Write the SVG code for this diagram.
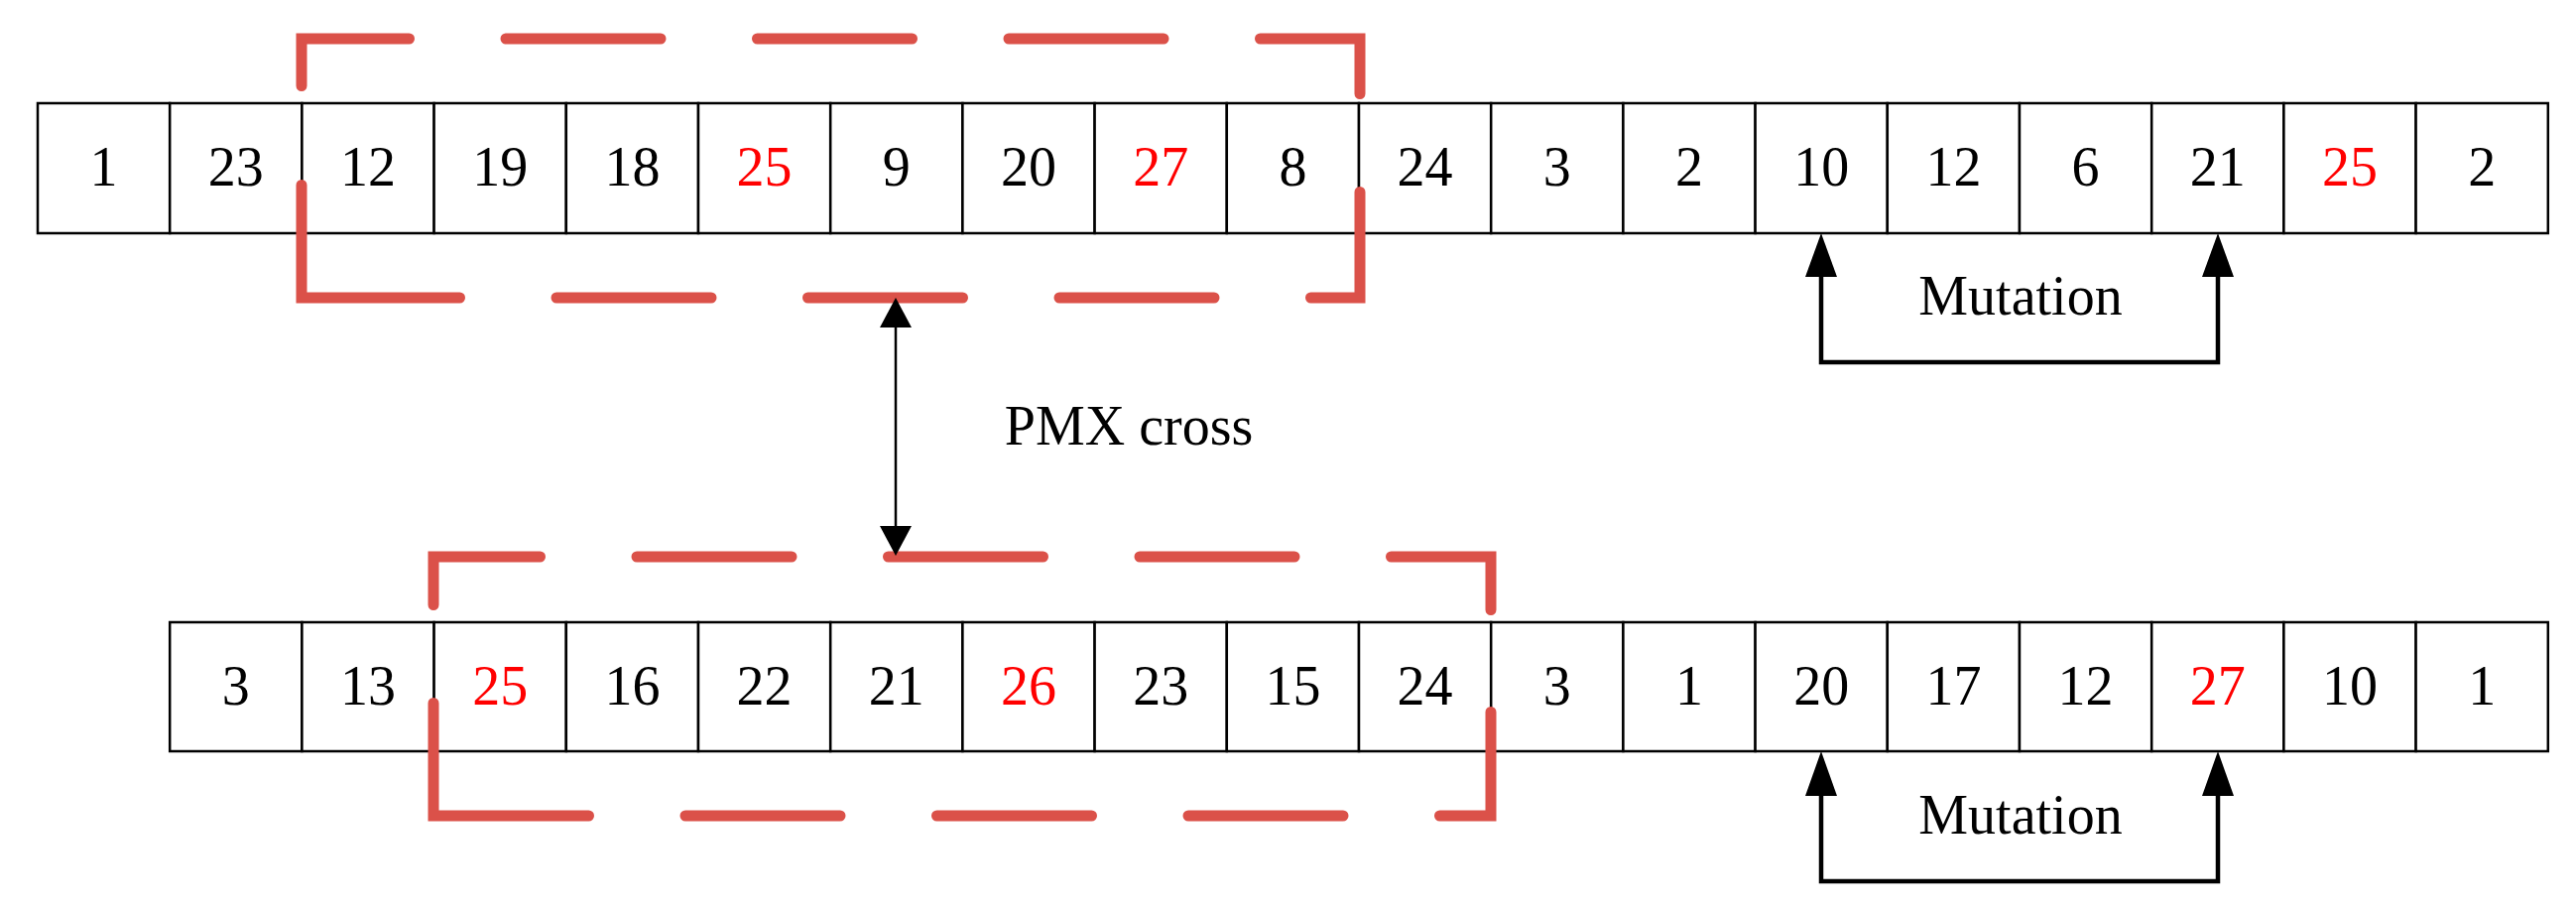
<svg xmlns="http://www.w3.org/2000/svg" width="2597" height="922" viewBox="0 0 2597 922">
<style>
.c rect{fill:#fff;stroke:#000;stroke-width:2.5}
.c text,.lbl{font-family:"Liberation Serif","Times New Roman",serif;font-size:56px;text-anchor:middle;fill:#000}
.c text.r{fill:#ff0000}
.box{fill:none;stroke:#DB5149;stroke-width:11;stroke-linecap:round;stroke-linejoin:miter}
.d1{stroke-dasharray:156 97.5}
.d2{stroke-dasharray:156 97.5 156 97.5 156 97.5 156 97.5 273 2000}
.ln{fill:none;stroke:#000}
</style>
<g id="row1">
<g id="t0" class="c"><rect x="38" y="104" width="133.2" height="131"/><text x="104.6" y="187">1</text></g>
<g id="t1" class="c"><rect x="171.2" y="104" width="133.2" height="131"/><text x="237.8" y="187">23</text></g>
<g id="t2" class="c"><rect x="304.4" y="104" width="133.2" height="131"/><text x="371" y="187">12</text></g>
<g id="t3" class="c"><rect x="437.6" y="104" width="133.2" height="131"/><text x="504.2" y="187">19</text></g>
<g id="t4" class="c"><rect x="570.8" y="104" width="133.2" height="131"/><text x="637.4" y="187">18</text></g>
<g id="t5" class="c"><rect x="704" y="104" width="133.2" height="131"/><text class="r" x="770.6" y="187">25</text></g>
<g id="t6" class="c"><rect x="837.2" y="104" width="133.2" height="131"/><text x="903.8" y="187">9</text></g>
<g id="t7" class="c"><rect x="970.4" y="104" width="133.2" height="131"/><text x="1037" y="187">20</text></g>
<g id="t8" class="c"><rect x="1103.6" y="104" width="133.2" height="131"/><text class="r" x="1170.2" y="187">27</text></g>
<g id="t9" class="c"><rect x="1236.8" y="104" width="133.2" height="131"/><text x="1303.4" y="187">8</text></g>
<g id="t10" class="c"><rect x="1370" y="104" width="133.2" height="131"/><text x="1436.6" y="187">24</text></g>
<g id="t11" class="c"><rect x="1503.2" y="104" width="133.2" height="131"/><text x="1569.8" y="187">3</text></g>
<g id="t12" class="c"><rect x="1636.4" y="104" width="133.2" height="131"/><text x="1703" y="187">2</text></g>
<g id="t13" class="c"><rect x="1769.6" y="104" width="133.2" height="131"/><text x="1836.2" y="187">10</text></g>
<g id="t14" class="c"><rect x="1902.8" y="104" width="133.2" height="131"/><text x="1969.4" y="187">12</text></g>
<g id="t15" class="c"><rect x="2036" y="104" width="133.2" height="131"/><text x="2102.6" y="187">6</text></g>
<g id="t16" class="c"><rect x="2169.2" y="104" width="133.2" height="131"/><text x="2235.8" y="187">21</text></g>
<g id="t17" class="c"><rect x="2302.4" y="104" width="133.2" height="131"/><text class="r" x="2369" y="187">25</text></g>
<g id="t18" class="c"><rect x="2435.6" y="104" width="133.2" height="131"/><text x="2502.2" y="187">2</text></g>
</g>
<g id="row2">
<g id="b0" class="c"><rect x="171.2" y="627" width="133.2" height="130"/><text x="237.8" y="709.5">3</text></g>
<g id="b1" class="c"><rect x="304.4" y="627" width="133.2" height="130"/><text x="371" y="709.5">13</text></g>
<g id="b2" class="c"><rect x="437.6" y="627" width="133.2" height="130"/><text class="r" x="504.2" y="709.5">25</text></g>
<g id="b3" class="c"><rect x="570.8" y="627" width="133.2" height="130"/><text x="637.4" y="709.5">16</text></g>
<g id="b4" class="c"><rect x="704" y="627" width="133.2" height="130"/><text x="770.6" y="709.5">22</text></g>
<g id="b5" class="c"><rect x="837.2" y="627" width="133.2" height="130"/><text x="903.8" y="709.5">21</text></g>
<g id="b6" class="c"><rect x="970.4" y="627" width="133.2" height="130"/><text class="r" x="1037" y="709.5">26</text></g>
<g id="b7" class="c"><rect x="1103.6" y="627" width="133.2" height="130"/><text x="1170.2" y="709.5">23</text></g>
<g id="b8" class="c"><rect x="1236.8" y="627" width="133.2" height="130"/><text x="1303.4" y="709.5">15</text></g>
<g id="b9" class="c"><rect x="1370" y="627" width="133.2" height="130"/><text x="1436.6" y="709.5">24</text></g>
<g id="b10" class="c"><rect x="1503.2" y="627" width="133.2" height="130"/><text x="1569.8" y="709.5">3</text></g>
<g id="b11" class="c"><rect x="1636.4" y="627" width="133.2" height="130"/><text x="1703" y="709.5">1</text></g>
<g id="b12" class="c"><rect x="1769.6" y="627" width="133.2" height="130"/><text x="1836.2" y="709.5">20</text></g>
<g id="b13" class="c"><rect x="1902.8" y="627" width="133.2" height="130"/><text x="1969.4" y="709.5">17</text></g>
<g id="b14" class="c"><rect x="2036" y="627" width="133.2" height="130"/><text x="2102.6" y="709.5">12</text></g>
<g id="b15" class="c"><rect x="2169.2" y="627" width="133.2" height="130"/><text class="r" x="2235.8" y="709.5">27</text></g>
<g id="b16" class="c"><rect x="2302.4" y="627" width="133.2" height="130"/><text x="2369" y="709.5">10</text></g>
<g id="b17" class="c"><rect x="2435.6" y="627" width="133.2" height="130"/><text x="2502.2" y="709.5">1</text></g>
</g>
<g id="boxes">
<path class="box d1" d="M304,86.5 V39 H1371 V94.5"/>
<path class="box d2" d="M1371,193.5 V300 H304 V185.5"/>
<path class="box d1" d="M437,609.5 V561 H1503 V614.5"/>
<path class="box d2" d="M1503,717.5 V822 H437 V708.5"/>
</g>
<g id="connectors">
<line class="ln" stroke-width="2.5" x1="903" y1="325" x2="903" y2="535"/>
<polygon points="903,300 919,330 887,330"/>
<polygon points="903,560 919,530 887,530"/>
<path class="ln" stroke-width="4.5" d="M1836,279 V365 H2236 V279"/>
<polygon points="1836,235 1852,279 1820,279"/>
<polygon points="2236,235 2252,279 2220,279"/>
<path class="ln" stroke-width="4.5" d="M1836,802 V888 H2236 V802"/>
<polygon points="1836,757 1852,802 1820,802"/>
<polygon points="2236,757 2252,802 2220,802"/>
</g>
<g id="labels">
<text class="lbl" x="1138" y="448">PMX cross</text>
<text class="lbl" x="2037" y="317">Mutation</text>
<text class="lbl" x="2037" y="840">Mutation</text>
</g>
</svg>
